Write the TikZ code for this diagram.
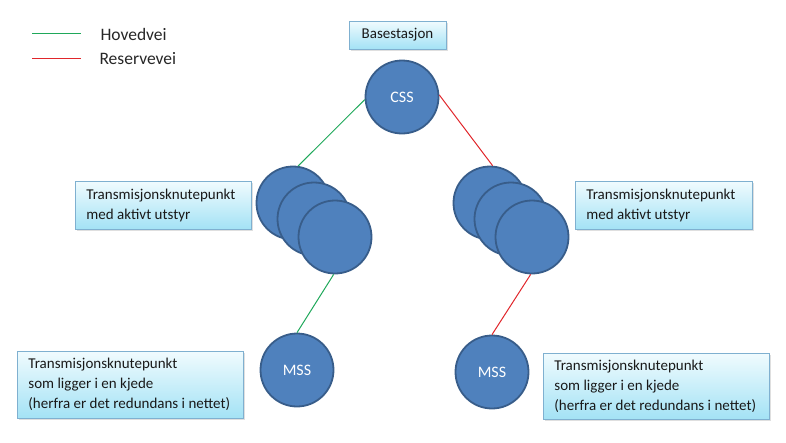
\documentclass[tikz,border=0pt]{standalone}
\usepackage{fontspec}
\setmainfont{Carlito}
\usetikzlibrary{shadows}
\definecolor{circfill}{HTML}{4F81BD}
\definecolor{circline}{HTML}{385D8A}
\definecolor{boxline}{HTML}{7FB0D0}
\definecolor{boxtop}{HTML}{F0FBFE}
\definecolor{boxbot}{HTML}{A3E2F5}
\definecolor{hgreen}{HTML}{1FA85A}
\definecolor{rred}{HTML}{E0262B}
\tikzset{
  knot/.style={circle, draw=circline, line width=1.8pt, fill=circfill, minimum size=73pt, inner sep=0pt, text=white, font=\fontsize{16}{19}\selectfont},
  infobox/.style={draw=boxline, line width=0.8pt, top color=boxtop, bottom color=boxbot, anchor=north west, inner sep=0pt, text=black!90, font=\fontsize{15}{20}\selectfont, drop shadow={opacity=0.25, shadow xshift=1.5pt, shadow yshift=-1.5pt}},
  mainway/.style={hgreen, line width=1pt},
  backupway/.style={rred, line width=1pt},
  legendtext/.style={anchor=west, font=\fontsize{17.5}{21}\selectfont, text=black!85}
}
\newcommand{\boxlines}[2]{\makebox[#1][l]{\hspace{11pt}\begin{tabular}{@{}l@{}}#2\end{tabular}}}
\begin{document}
\begin{tikzpicture}[x=1pt,y=-1pt]
\useasboundingbox (0,0) rectangle (786,442);
% legend
\coordinate (g1) at (32,33); \coordinate (g2) at (81,33);
\coordinate (r1) at (32,58); \coordinate (r2) at (81,58);
\draw[mainway] (g1) -- (g2);
\draw[backupway] (r1) -- (r2);
\node[legendtext] (lh) at (97,34) {Hovedvei};
\node[legendtext] (lr) at (96,59) {Reservevei};
% base station box
\node[infobox, minimum width=97pt, minimum height=28pt, anchor=center, align=center] (bs) at (397.5,35) {Basestasjon};
% circles
\node[knot] (css) at (402,97) {CSS};
\node[knot] (l1) at (293,203) {};
\node[knot] (l2) at (314,219) {};
\node[knot] (l3) at (335,237) {};
\node[knot] (r1c) at (490,203) {};
\node[knot] (r2c) at (511,219) {};
\node[knot] (r3c) at (532,237) {};
\node[knot] (mssl) at (297,370) {MSS};
\node[knot] (mssr) at (492,372) {MSS};
% connectors
\draw[mainway] (css.184) -- (l1.82);
\draw[mainway] (l3.268) -- (mssl.north);
\draw[backupway] (css.3) -- (r1c.86);
\draw[backupway] (r3c.268) -- (mssr.north);
% info boxes
\node[infobox, minimum width=176pt, minimum height=48pt] (tl) at (75,181) {\boxlines{176pt}{Transmisjonsknutepunkt\\med aktivt utstyr}};
\node[infobox, minimum width=177pt, minimum height=48pt] (tr) at (575,181) {\boxlines{177pt}{Transmisjonsknutepunkt\\med aktivt utstyr}};
\node[infobox, minimum width=226pt, minimum height=67pt] (bl) at (17,351) {\boxlines{226pt}{Transmisjonsknutepunkt\\som ligger i en kjede\\(herfra er det redundans i nettet)}};
\node[infobox, minimum width=226pt, minimum height=66pt] (br) at (543,353) {\boxlines{226pt}{Transmisjonsknutepunkt\\som ligger i en kjede\\(herfra er det redundans i nettet)}};
\end{tikzpicture}
\end{document}
